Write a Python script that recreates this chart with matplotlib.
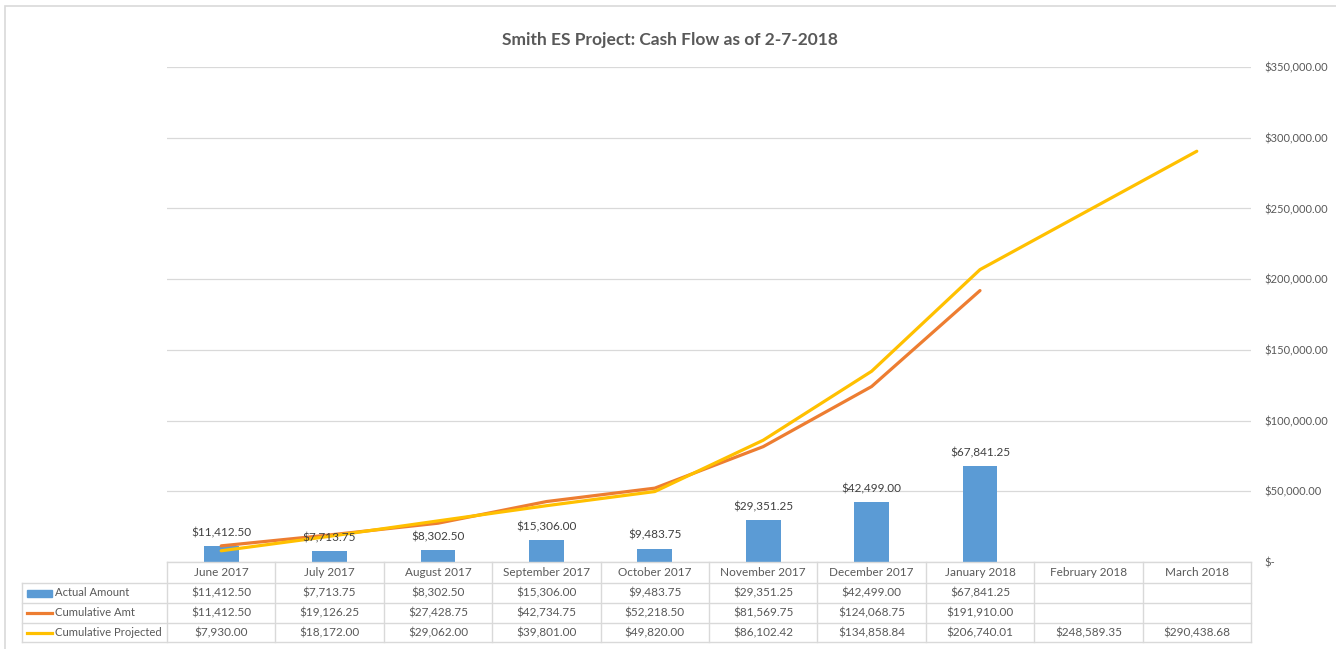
import matplotlib.pyplot as plt
import numpy as np
from matplotlib.patches import Rectangle
from matplotlib.lines import Line2D

plt.rcParams['font.family'] = ['Lato', 'DejaVu Sans']

months = ["June 2017", "July 2017", "August 2017", "September 2017", "October 2017",
          "November 2017", "December 2017", "January 2018", "February 2018", "March 2018"]
actual = [11412.50, 7713.75, 8302.50, 15306.00, 9483.75, 29351.25, 42499.00, 67841.25]
cumulative = [11412.50, 19126.25, 27428.75, 42734.75, 52218.50, 81569.75, 124068.75, 191910.00]
projected = [7930.00, 18172.00, 29062.00, 39801.00, 49820.00, 86102.42, 134858.84,
             206740.01, 248589.35, 290438.68]
series_names = ["Actual Amount", "Cumulative Amt", "Cumulative Projected"]
yticks = [0, 50000, 100000, 150000, 200000, 250000, 300000, 350000]

blue, orange, yellow = "#5B9BD5", "#ED7D31", "#FFC000"
grey_txt = "#595959"
grid_col = "#d9d9d9"

W, H = 1336, 649
fig = plt.figure(figsize=(W / 100, H / 100), dpi=100)
ax = fig.add_axes([167 / W, (H - 562) / H, (1251 - 167) / W, (562 - 67) / H])


def fx(px):
    return px / W


def fy(py):
    return (H - py) / H


x = np.arange(len(months))
ax.bar(x[:len(actual)], actual, width=0.32, color=blue, zorder=2)
ax.plot(x[:len(cumulative)], cumulative, color=orange, lw=2.3, zorder=3,
        solid_capstyle='round')
ax.plot(x, projected, color=yellow, lw=2.3, zorder=4, solid_capstyle='round')

for xi, v in zip(x, actual):
    ax.text(xi, v + 5500, f"${v:,.2f}", ha='center', va='bottom', fontsize=8.5,
            color="#404040", zorder=5)

ax.set_xlim(-0.5, len(months) - 0.5)
ax.set_ylim(0, 350000)
ax.set_yticks(yticks)
ax.yaxis.tick_right()
ax.set_yticklabels([f"${t:,.2f}" if t else "$-" for t in yticks],
                   color=grey_txt, fontsize=8)
ax.tick_params(axis='y', length=0, pad=10)
ax.set_xticks([])
ax.grid(axis='y', color=grid_col, lw=0.9, zorder=0)
for s in ax.spines.values():
    s.set_visible(False)

# data table below the plot, drawn by hand
left_px, lab_px, col_px = 22, 167, 108.4
row_px = [562, 583, 603, 623, 642]
col_edges = [lab_px + k * col_px for k in range(len(months) + 1)]
line_kw = dict(transform=fig.transFigure, color=grid_col, lw=1.0)

# horizontal lines
fig.lines.append(Line2D([fx(lab_px), fx(col_edges[-1])], [fy(row_px[0])] * 2, **line_kw))
for r in row_px[1:]:
    fig.lines.append(Line2D([fx(left_px), fx(col_edges[-1])], [fy(r)] * 2, **line_kw))
# vertical lines
fig.lines.append(Line2D([fx(left_px)] * 2, [fy(row_px[1]), fy(row_px[-1])], **line_kw))
for c in col_edges:
    fig.lines.append(Line2D([fx(c)] * 2, [fy(row_px[0]), fy(row_px[-1])], **line_kw))

for j, m in enumerate(months):
    cx = (col_edges[j] + col_edges[j + 1]) / 2
    fig.text(fx(cx), fy((row_px[0] + row_px[1]) / 2), m, ha='center', va='center',
             fontsize=8.5, color=grey_txt)

rows = [actual, cumulative, projected]
for i, vals in enumerate(rows):
    cy = (row_px[i + 1] + row_px[i + 2]) / 2
    for j, v in enumerate(vals):
        cx = (col_edges[j] + col_edges[j + 1]) / 2
        fig.text(fx(cx), fy(cy), f"${v:,.2f}", ha='center', va='center',
                 fontsize=8.5, color=grey_txt)

# legend keys in the row label cells
for i, (name, col) in enumerate(zip(series_names, [blue, orange, yellow])):
    cy = (row_px[i + 1] + row_px[i + 2]) / 2
    if i == 0:
        fig.patches.append(Rectangle((fx(27), fy(cy + 3.5)), 25 / W, 7 / H,
                                     transform=fig.transFigure, color=col))
    else:
        fig.lines.append(Line2D([fx(27), fx(52)], [fy(cy)] * 2,
                                transform=fig.transFigure, color=col, lw=2.3))
    fig.text(fx(55), fy(cy), name, ha='left', va='center', fontsize=8.1, color=grey_txt)

fig.text(fx(670), fy(40), "Smith ES Project: Cash Flow as of 2-7-2018",
         ha='center', va='center', fontsize=12.5, fontweight='bold', color=grey_txt)

# outer chart border (cropped at right and bottom)
fig.patches.append(Rectangle((fx(5), -0.05), 1.1, fy(6) + 0.05,
                             transform=fig.transFigure, fill=False,
                             edgecolor=grid_col, lw=1.2))

fig.savefig("out.png", dpi=100)
